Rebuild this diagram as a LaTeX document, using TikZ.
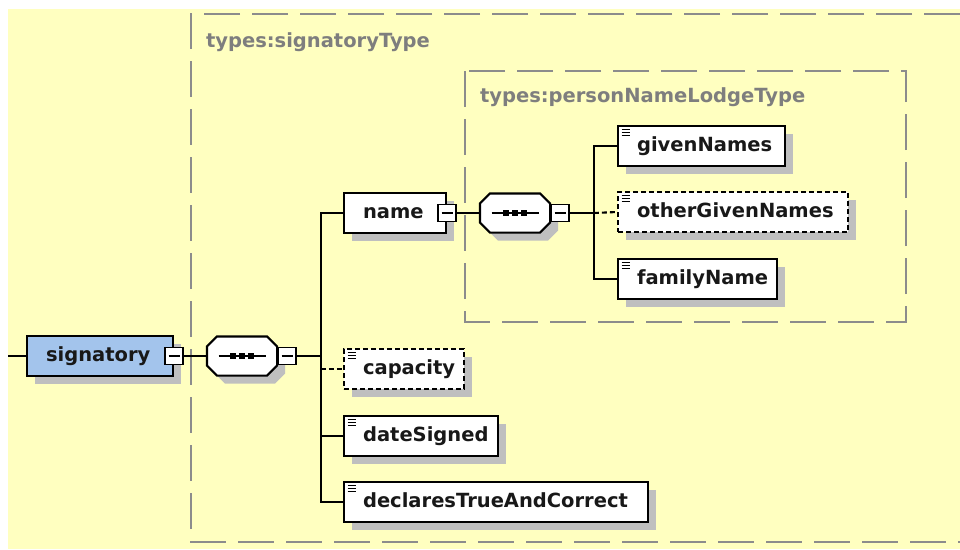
\documentclass[tikz,border=0pt]{standalone}
\usepackage{fontspec}
\setmainfont{DejaVu Sans}
\usetikzlibrary{arrows,positioning,shadows}

\definecolor{xsdbg}{RGB}{255,255,192}
\definecolor{xsdblue}{RGB}{163,196,236}
\definecolor{xsdgrey}{RGB}{140,140,140}
\definecolor{xsdtext}{RGB}{24,24,24}

% octagon of a sequence compositor, drawn round a named node
\newcommand{\seqbox}[1]{%
  \draw[fill=white,shade] ([shift={(10,0)}]#1.north west) -- ([shift={(-10,0)}]#1.north east)
    -- ([shift={(0,10)}]#1.north east) -- ([shift={(0,-10)}]#1.south east)
    -- ([shift={(-10,0)}]#1.south east) -- ([shift={(10,0)}]#1.south west)
    -- ([shift={(0,-10)}]#1.south west) -- ([shift={(0,10)}]#1.north west) -- cycle;
  \draw[line width=1.6pt] ([shift={(-23.5,0)}]#1.center) -- ([shift={(23.5,0)}]#1.center);
  \foreach \d in {-9,0,9}
    \fill[black] ([shift={(\d,0)}]#1.center) +(-3,-3) rectangle +(3,3);}

\begin{document}
\begin{tikzpicture}[x=1pt,y=-1pt,line width=2.1pt,node distance=23pt,
    font=\fontsize{19.5}{23}\selectfont\bfseries,
    shade/.style={drop shadow={shadow xshift=8pt,shadow yshift=-8pt,fill=black!25,opacity=1}},
    elem/.style={draw,fill=white,shade,text=xsdtext,minimum height=40pt,inner xsep=0pt,inner ysep=0pt,
      text width=#1,align=left,text height=14.5pt,text depth=3pt,anchor=west},
    leaf/.style={elem=#1,path picture={
      \foreach \k in {3.5,6.5,9.5}
        \draw[solid,black,line width=1.1pt] ([shift={(3.5,\k)}]path picture bounding box.north west) -- ++(8.5,0);}},
    opt/.style={dash pattern=on 5pt off 3pt},
    minus/.style={draw,fill=white,line width=1.8pt,minimum width=18pt,minimum height=17pt,inner sep=0pt,
      path picture={\draw[black,line width=1.6pt] ([xshift=3.5pt]path picture bounding box.west)
        -- ([xshift=-3.5pt]path picture bounding box.east);}},
    seq/.style={minimum width=68pt,minimum height=37pt,inner sep=0pt},
    grp/.style={draw=xsdgrey,line width=1.8pt,dash pattern=on 36pt off 12pt},
    grplabel/.style={text=xsdgrey!90!black,anchor=west,inner sep=0pt}]

  % background and type groups
  \useasboundingbox (0,0) rectangle (960,549);
  \fill[xsdbg] (8,9) rectangle (960,549);
  \draw[grp] (960,14) -- (191,14) -- (191,542) -- (960,542);
  \node[grplabel] (sigtype) at (205,42) {types:signatoryType};
  \draw[grp] (465,71) rectangle (906,322);
  \node[grplabel] (pnltype) at (479,97) {types:personNameLodgeType};

  % root element and its sequence
  \coordinate (root) at (8,356);
  \node[elem=146pt,fill=xsdblue] (signatory) at (26,356) {\hspace*{19pt}signatory};
  \node[minus] (sigm) at (signatory.east) {};
  \node[seq,right=of sigm] (sigseq) {};
  \seqbox{sigseq}
  \node[minus,anchor=west] (sigseqm) at (sigseq.east) {};
  \coordinate[right=24pt of sigseqm] (sigbus);

  % children of signatory
  \node[elem=102pt] (name) at (343,213) {\hspace*{19pt}name};
  \node[minus] (namem) at (name.east) {};
  \node[leaf=120pt,opt] (capacity) at (343,369) {\hspace*{19pt}capacity};
  \node[leaf=154pt] (dateSigned) at (343,436) {\hspace*{19pt}dateSigned};
  \node[leaf=304pt] (declares) at (343,502) {\hspace*{19pt}declaresTrueAndCorrect};

  % name sequence
  \node[seq,right=of namem] (nameseq) {};
  \seqbox{nameseq}
  \node[minus,anchor=west] (nameseqm) at (nameseq.east) {};
  \coordinate[right=24pt of nameseqm] (namebus);
  \node[leaf=167pt] (givenNames) at (617,146) {\hspace*{19pt}givenNames};
  \node[leaf=230pt,opt] (otherGivenNames) at (617,212) {\hspace*{19pt}otherGivenNames};
  \node[leaf=159pt] (familyName) at (617,279) {\hspace*{19pt}familyName};

  % connectors
  \draw (root) -- (signatory);
  \draw (sigm) -- (sigseq);
  \draw (sigseqm) -- (sigbus);
  \draw (sigbus) |- (name.west);
  \draw (sigbus) |- (dateSigned.west);
  \draw (sigbus) |- (declares.west);
  \draw[opt] (sigbus |- capacity.west) -- (capacity.west);
  \draw (namem) -- (nameseq);
  \draw (nameseqm) -- (namebus);
  \draw (namebus) |- (givenNames.west);
  \draw (namebus) |- (familyName.west);
  \draw[opt] (namebus) -- (otherGivenNames.west);
\end{tikzpicture}
\end{document}
